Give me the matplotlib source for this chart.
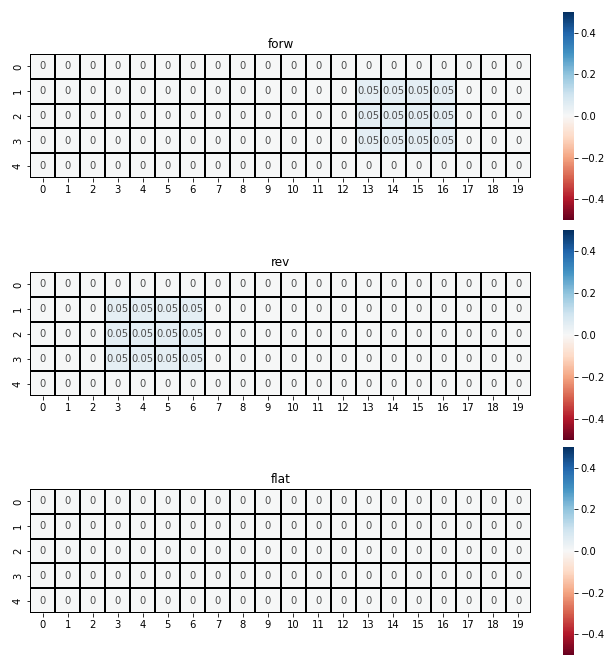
import numpy as np
import matplotlib
matplotlib.use('Agg')
import matplotlib.pyplot as plt
import seaborn as sns

titles = ['forw', 'rev', 'flat']
n_rows, n_cols = 5, 20

# non-zero block per panel: rows, cols, value
forw_rows = [1, 2, 3]
forw_cols = [13, 14, 15, 16]
rev_rows = [1, 2, 3]
rev_cols = [3, 4, 5, 6]
block_value = 0.05

forw = np.zeros((n_rows, n_cols))
forw[np.ix_(forw_rows, forw_cols)] = block_value
rev = np.zeros((n_rows, n_cols))
rev[np.ix_(rev_rows, rev_cols)] = block_value
flat = np.zeros((n_rows, n_cols))
grids = [forw, rev, flat]

W, H = 605, 657
fig = plt.figure(figsize=(W / 72, H / 72), dpi=72)

# pixel boxes (left, top, right, bottom)
heat_boxes = [(30, 54, 531, 178), (30, 272, 531, 396), (30, 489, 531, 613)]
cbar_boxes = [(563, 12, 573.5, 220), (563, 230.5, 573.5, 440), (563, 447, 573.5, 655)]

def to_fig(box):
    l, t, r, b = box
    return [l / W, 1 - b / H, (r - l) / W, (b - t) / H]

for data, title, hb, cb in zip(grids, titles, heat_boxes, cbar_boxes):
    ax = fig.add_axes(to_fig(hb))
    cax = fig.add_axes(to_fig(cb))
    sns.heatmap(data, ax=ax, cbar_ax=cax, cmap='RdBu', vmin=-0.5, vmax=0.5,
                annot=True, annot_kws={'color': '0.3'},
                linewidths=2, linecolor='black')
    ax.set_title(title)
    cax.set_yticks([-0.4, -0.2, 0.0, 0.2, 0.4])

plt.savefig('out.png', dpi=72)
